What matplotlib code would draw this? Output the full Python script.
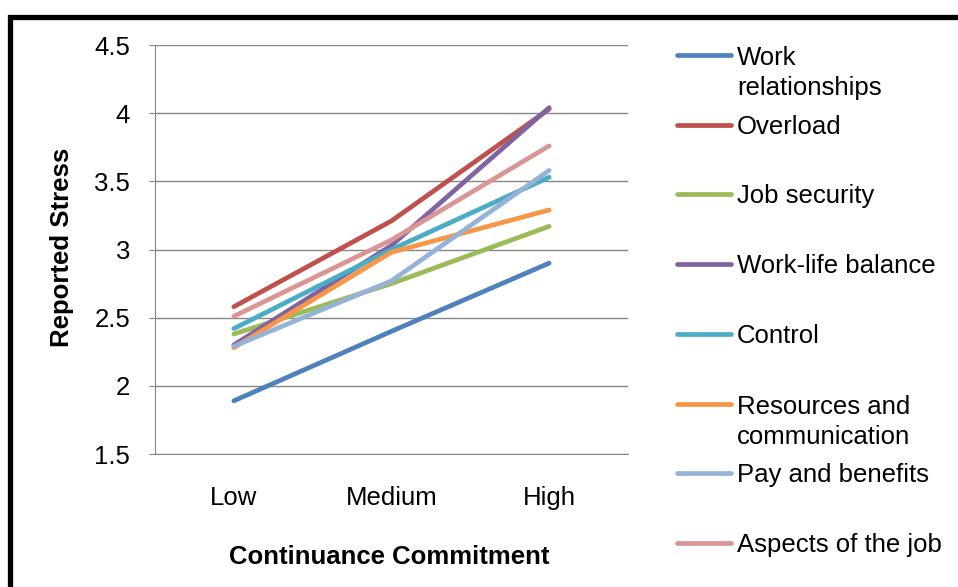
import matplotlib.pyplot as plt
from matplotlib.lines import Line2D
from matplotlib.patches import Rectangle

plt.rcParams['font.family'] = ['Liberation Sans', 'DejaVu Sans']

levels = ["Low", "Medium", "High"]

work_relationships = [1.89, 2.40, 2.90]
overload = [2.58, 3.21, 4.03]
job_security = [2.38, 2.75, 3.17]
work_life_balance = [2.30, 3.03, 4.04]
control = [2.42, 3.00, 3.53]
resources_communication = [2.28, 2.98, 3.29]
pay_benefits = [2.29, 2.77, 3.58]
aspects_of_job = [2.51, 3.07, 3.76]

names = ["Work\nrelationships", "Overload", "Job security", "Work-life balance",
         "Control", "Resources and\ncommunication", "Pay and benefits",
         "Aspects of the job"]
series = [work_relationships, overload, job_security, work_life_balance,
          control, resources_communication, pay_benefits, aspects_of_job]
colors = ["#4F81BD", "#C0504D", "#9BBB59", "#8064A2",
          "#4BACC6", "#F79646", "#95B3D7", "#D99694"]

W, H = 958, 587
fig = plt.figure(figsize=(W / 100, H / 100), dpi=100)
ax = fig.add_axes([155 / W, 1 - 454 / H, (628 - 155) / W, (454 - 45) / H])

x = range(len(levels))
for vals, c in zip(series, colors):
    ax.plot(x, vals, color=c, lw=3.4, solid_capstyle='round')

ax.set_xlim(-0.5, 2.5)
ax.set_ylim(1.5, 4.5)
ax.set_yticks([1.5, 2, 2.5, 3, 3.5, 4, 4.5])
ax.set_yticklabels(["1.5", "2", "2.5", "3", "3.5", "4", "4.5"])
ax.set_xticks(list(x))
ax.set_xticklabels(levels)
ax.tick_params(axis='y', labelsize=18.5, length=4, color='#868686', pad=14)
ax.tick_params(axis='x', labelsize=18.5, length=0, pad=23)
ax.grid(axis='y', color='#868686', lw=1)
ax.set_axisbelow(True)
for s in ['top', 'right']:
    ax.spines[s].set_visible(False)
for s in ['left', 'bottom']:
    ax.spines[s].set_color('#868686')

ax.set_ylabel("Reported Stress", fontsize=18.5, fontweight='bold')
ax.yaxis.set_label_coords(-0.172, 0.504)
ax.set_xlabel("Continuance Commitment", fontsize=18.5, fontweight='bold')
ax.xaxis.set_label_coords(0.496, -0.222)

# legend drawn by hand so multi-line entries sit like the original
for i, (name, c) in enumerate(zip(names, colors)):
    yy = 55 + i * 69.7
    n = name.count("\n")
    fig.add_artist(Line2D([677 / W, 731 / W], [1 - yy / H, 1 - yy / H],
                          color=c, lw=3.4, solid_capstyle='round'))
    fig.text(737 / W, 1 - (yy + 9 + n * 31) / H, name, fontsize=18.5,
             va='baseline', ha='left', linespacing=1.3)

# black frame on top and left
fig.add_artist(Rectangle((10 / W, -0.2), 1.2, 1 - 16.5 / H + 0.2,
                         fill=False, ec='black', lw=3.8,
                         transform=fig.transFigure))

fig.savefig("out.png", dpi=100)
